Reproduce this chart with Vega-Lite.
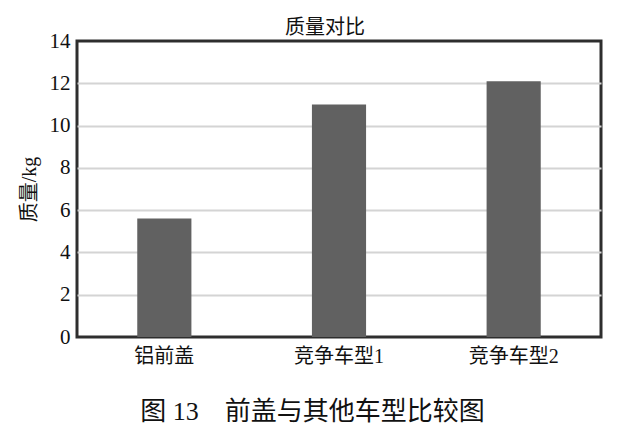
{
  "$schema": "https://vega.github.io/schema/vega-lite/v6.json",
  "width": 524,
  "height": 296,
  "autosize": "none",
  "padding": {"left": 77, "top": 41, "right": 38, "bottom": 106},
  "background": "white",
  "title": {
    "text": "质量对比",
    "font": "Noto Sans CJK SC",
    "fontSize": 20,
    "fontWeight": "normal",
    "color": "#111",
    "offset": -8,
    "dx": -14
  },
  "data": {
    "values": [
      {"name": "铝前盖", "mass": 5.6},
      {"name": "竞争车型1", "mass": 11.0},
      {"name": "竞争车型2", "mass": 12.1}
    ]
  },
  "mark": {"type": "bar", "color": "#616161"},
  "encoding": {
    "x": {
      "field": "name",
      "type": "nominal",
      "sort": null,
      "scale": {"paddingInner": 0.69, "paddingOuter": 0.345},
      "axis": {
        "title": "图 13\u3000前盖与其他车型比较图",
        "titleFont": "Liberation Serif, Noto Sans CJK SC",
        "titleFontSize": 26,
        "titleFontWeight": "normal",
        "titleColor": "#111",
        "titlePadding": 32,
        "titleX": 235,
        "titleAnchor": "middle",
        "labelAngle": 0,
        "labelFont": "Liberation Serif, Noto Sans CJK SC",
        "labelFontSize": 20,
        "labelColor": "#111",
        "labelPadding": 9,
        "ticks": false,
        "domain": false
      }
    },
    "y": {
      "field": "mass",
      "type": "quantitative",
      "scale": {"domain": [0, 14]},
      "axis": {
        "title": "质量/kg",
        "titleFont": "Liberation Serif, Noto Sans CJK SC",
        "titleFontSize": 20,
        "titleFontWeight": "normal",
        "titleColor": "#111",
        "titlePadding": 10,
        "values": [0, 2, 4, 6, 8, 10, 12, 14],
        "labelFont": "Liberation Serif",
        "labelFontSize": 21,
        "labelColor": "#111",
        "labelPadding": 7,
        "ticks": false,
        "domain": false,
        "grid": true,
        "gridColor": {
          "condition": {"test": "datum.value == 0 || datum.value == 14", "value": "transparent"},
          "value": "#d4d4d4"
        },
        "gridWidth": 2
      }
    }
  },
  "config": {
    "view": {"stroke": "#2e2e2e", "strokeWidth": 3}
  }
}
